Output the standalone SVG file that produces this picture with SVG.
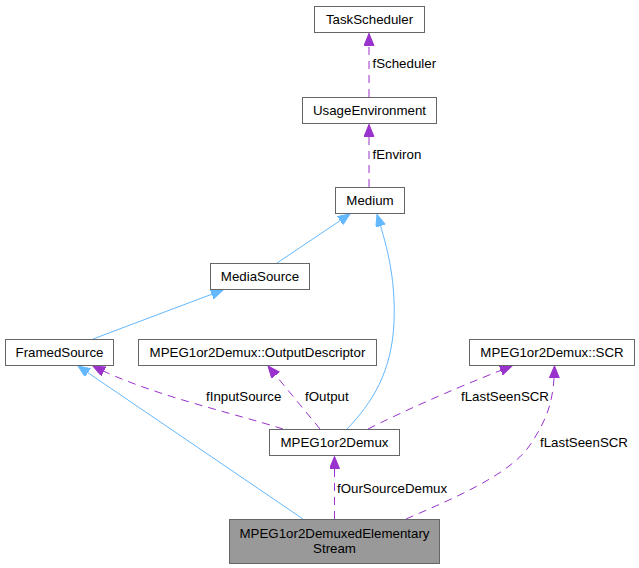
<svg xmlns="http://www.w3.org/2000/svg" width="639" height="568" viewBox="0 0 639 568">
<style>
  .box { fill: #ffffff; stroke: #666666; stroke-width: 1; }
  .cur { fill: #999999; stroke: #666666; stroke-width: 1; }
  text { font-family: "Liberation Sans", Arial, sans-serif; font-size: 13.3px; fill: #000000; }
  .c { text-anchor: middle; }
  .inh { fill: none; stroke: #63b8ff; stroke-width: 1; marker-end: url(#ab); }
  .use { fill: none; stroke: #9a32cd; stroke-width: 1; stroke-dasharray: 8,6; marker-end: url(#ap); }
</style>
<defs>
  <marker id="ab" markerUnits="userSpaceOnUse" markerWidth="13" markerHeight="11" refX="12" refY="5" orient="auto" viewBox="0 0 13 11">
    <path d="M0,0 L12,5 L0,10 Z" fill="#63b8ff" stroke="#63b8ff" stroke-width="1"/>
  </marker>
  <marker id="ap" markerUnits="userSpaceOnUse" markerWidth="13" markerHeight="11" refX="12" refY="5" orient="auto" viewBox="0 0 13 11">
    <path d="M0,0 L12,5 L0,10 Z" fill="#9a32cd" stroke="#9a32cd" stroke-width="1"/>
  </marker>
</defs>

<g id="connectors">
  <path class="use" d="M369,97 L369,33.5"/>
  <path class="use" d="M369,187 L369,124.5"/>
  <path class="inh" d="M277,263 L350,214"/>
  <path class="inh" d="M93,339 L223,290"/>
  <path class="inh" d="M347,429 C372,403 392,372 394,322 C396,275 385,240 377,214.5"/>
  <path class="inh" d="M303,519 L78,366"/>
  <path class="use" d="M283,429 C230,412 150,395 93,366"/>
  <path class="use" d="M320,429 L268,366"/>
  <path class="use" d="M368,429 C400,413 450,390 512,366"/>
  <path class="use" d="M406,519 C450,500 510,475 530,445 C548,418 554,400 554.5,366"/>
  <path class="use" d="M334.5,519 L334.5,456.5"/>
  <text x="372.5" y="68">fScheduler</text>
  <text x="372.5" y="159">fEnviron</text>
  <text x="206" y="401">fInputSource</text>
  <text x="305" y="401">fOutput</text>
  <text x="461" y="401">fLastSeenSCR</text>
  <text x="540" y="447">fLastSeenSCR</text>
  <text x="337" y="492.5">fOurSourceDemux</text>
</g>

<g id="TaskScheduler">
  <rect class="box" x="314.5" y="6.5" width="110" height="26"/>
  <text class="c" x="369.5" y="24">TaskScheduler</text>
</g>
<g id="UsageEnvironment">
  <rect class="box" x="302.5" y="97.5" width="134" height="26"/>
  <text class="c" x="369.5" y="115">UsageEnvironment</text>
</g>
<g id="Medium">
  <rect class="box" x="335.5" y="187.5" width="69" height="26"/>
  <text class="c" x="370" y="205">Medium</text>
</g>
<g id="MediaSource">
  <rect class="box" x="210.5" y="263.5" width="99" height="26"/>
  <text class="c" x="260" y="281">MediaSource</text>
</g>
<g id="FramedSource">
  <rect class="box" x="5.5" y="339.5" width="108" height="26"/>
  <text class="c" x="59.5" y="357">FramedSource</text>
</g>
<g id="OutputDescriptor">
  <rect class="box" x="138.5" y="339.5" width="238" height="26"/>
  <text class="c" x="257.5" y="357">MPEG1or2Demux::OutputDescriptor</text>
</g>
<g id="SCR">
  <rect class="box" x="469.5" y="339.5" width="165" height="26"/>
  <text class="c" x="552" y="357">MPEG1or2Demux::SCR</text>
</g>
<g id="MPEG1or2Demux">
  <rect class="box" x="269.5" y="429.5" width="130" height="26"/>
  <text class="c" x="334.5" y="447">MPEG1or2Demux</text>
</g>
<g id="MPEG1or2DemuxedElementaryStream">
  <rect class="cur" x="229.5" y="519.5" width="210" height="44"/>
  <text class="c" x="334.5" y="538">MPEG1or2DemuxedElementary</text>
  <text class="c" x="334.5" y="553">Stream</text>
</g>
</svg>
